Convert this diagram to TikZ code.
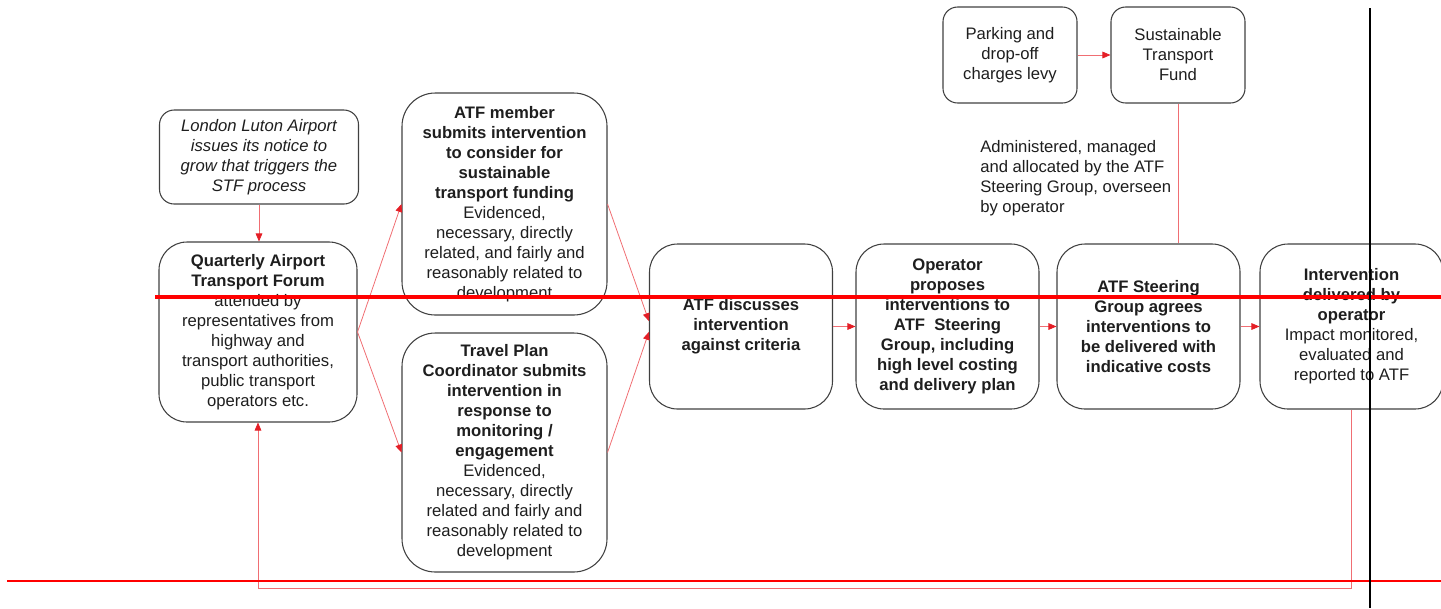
\documentclass[tikz,border=0pt]{standalone}
\usepackage{fontspec}
\setmainfont{Liberation Sans}
\usetikzlibrary{arrows.meta}
\definecolor{linkred}{RGB}{240,110,115}
\definecolor{tipred}{RGB}{228,30,38}
\definecolor{edgegrey}{RGB}{64,64,64}
\definecolor{inkgrey}{RGB}{30,30,30}

\begin{document}
\begin{tikzpicture}[x=0.75pt, y=-0.75pt,
		stage/.style={draw=edgegrey, line width=0.8pt, rounded corners=21pt, align=center, text=inkgrey, font=\fontsize{12.5}{15}\selectfont, inner sep=1pt},
		headline/.style={font=\fontsize{12.5}{15}\selectfont\bfseries},
		tightcorner/.style={rounded corners=11pt},
		widecorner/.style={rounded corners=25pt},
		boxsize/.style 2 args={minimum width=#1*0.75pt, minimum height=#2*0.75pt},
		flow/.style={draw=linkred, line width=0.6pt, -{Triangle[length=6pt, width=5pt, color=tipred]}},
		feed/.style={draw=linkred, line width=0.6pt}]
			\useasboundingbox (0, 0) rectangle (1441, 608);

			\draw (259, 157) 	node[stage, tightcorner, boxsize={199}{94}, font=\fontsize{12.5}{15}\selectfont\itshape] 	(lla) 		{London Luton Airport\\ issues its notice to\\ grow that triggers the\\ STF process};
			\draw (258, 332) 	node[stage, boxsize={198}{180}] 	(qatf) 		{\bfseries Quarterly Airport\\ \bfseries Transport Forum\\ attended by\\ representatives from\\ highway and\\ transport authorities,\\ public transport\\ operators etc.};
			\draw (504.5, 204) 	node[stage, widecorner, boxsize={205}{222}] 	(member) 	{\bfseries ATF member\\ \bfseries submits intervention\\ \bfseries to consider for\\ \bfseries sustainable\\ \bfseries transport funding\\ Evidenced,\\ necessary, directly\\ related, and fairly and\\ reasonably related to\\ development};
			\draw (504.5, 452.5) 	node[stage, widecorner, boxsize={205}{239}] 	(travel) 	{\bfseries Travel Plan\\ \bfseries Coordinator submits\\ \bfseries intervention in\\ \bfseries response to\\ \bfseries monitoring /\\ \bfseries engagement\\ Evidenced,\\ necessary, directly\\ related and fairly and\\ reasonably related to\\ development};
			\draw (741, 326.5) 	node[stage, headline, boxsize={183}{165}] 	(discuss) 	{ATF discusses\\ intervention\\ against criteria};
			\draw (947.5, 326.5) 	node[stage, headline, boxsize={183}{165}] 	(operator) 	{Operator\\ proposes\\ interventions to\\ ATF~ Steering\\ Group, including\\ high level costing\\ and delivery plan};
			\draw (1148.5, 326.5) 	node[stage, headline, boxsize={183}{165}] 	(steering) 	{ATF Steering\\ Group agrees\\ interventions to\\ be delivered with\\ indicative costs};
			\draw (1351.5, 326.5) 	node[stage, boxsize={183}{165}] 	(deliver) 	{\bfseries Intervention\\ \bfseries delivered by\\ \bfseries operator\\ Impact monitored,\\ evaluated and\\ reported to ATF};
			\draw (1010, 55) 	node[stage, tightcorner, boxsize={134}{96}] 	(parking) 	{Parking and\\ drop-off\\ charges levy};
			\draw (1178, 55) 	node[stage, tightcorner, boxsize={134}{96}] 	(stf) 		{Sustainable\\ Transport\\ Fund};
			\draw (980, 178.5) 	node[anchor=west, inner sep=0pt, align=left, text=inkgrey, font=\fontsize{12.5}{15}\selectfont] 	(admin) 	{Administered, managed\\ and allocated by the ATF\\ Steering Group, overseen\\ by operator};
			\coordinate (loop) at (0, 588);

			\draw[flow] (lla.south) -- (lla.south |- qatf.north);
			\draw[flow] (qatf.east) -- (member.west);
			\draw[flow] (qatf.east) -- (travel.west);
			\draw[flow] (member.east) -- ([yshift=4pt]discuss.west);
			\draw[flow] (travel.east) -- ([yshift=-4pt]discuss.west);
			\draw[flow] (discuss) -- (operator);
			\draw[flow] (operator) -- (steering);
			\draw[flow] (steering) -- (deliver);
			\draw[flow] (parking) -- (stf);
			\draw[feed] (stf.south) -- (stf.south |- steering.north);
			\draw[flow] (deliver.south) -- (deliver.south |- loop) -| (qatf.south);

			\draw[red, line width=3pt] (155, 297) -- (1441, 297);
			\draw[red, line width=1.5pt] (7, 581) -- (1441, 581);
			\draw[black, line width=1.5pt] (1370, 8) -- (1370, 608);
		\end{tikzpicture}
\end{document}
